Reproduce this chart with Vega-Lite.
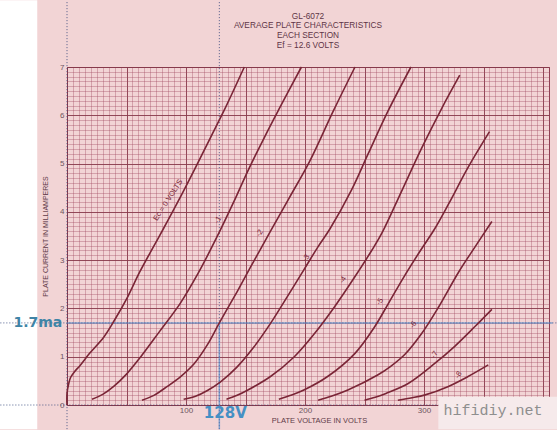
{
  "$schema": "https://vega.github.io/schema/vega-lite/v6.json",
  "width": 482,
  "height": 338,
  "autosize": {"type": "none"},
  "padding": {"left": 67, "top": 67, "right": 8, "bottom": 25},
  "background": "#f2d4d5",
  "config": {
    "view": {"stroke": "#86384a", "strokeWidth": 1},
    "font": "Liberation Sans"
  },
  "title": {
    "text": ["GL-6072", "AVERAGE PLATE CHARACTERISTICS", "EACH SECTION", "Ef = 12.6 VOLTS"],
    "font": "Liberation Sans",
    "fontSize": 8.3,
    "fontWeight": "normal",
    "color": "#5e3446",
    "lineHeight": 9.6,
    "anchor": "middle",
    "frame": "group",
    "offset": -49
  },
  "datasets": {
    "curves": [
      {"c": "0", "k": 0, "v": 0, "i": 0}, {"c": "0", "k": 1, "v": 0, "i": 0.24}, {"c": "0", "k": 2, "v": 1.5, "i": 0.45}, {"c": "0", "k": 3, "v": 3, "i": 0.57}, {"c": "0", "k": 4, "v": 6, "i": 0.68}, {"c": "0", "k": 5, "v": 11, "i": 0.82}, {"c": "0", "k": 6, "v": 19, "i": 1.07}, {"c": "0", "k": 7, "v": 31, "i": 1.41}, {"c": "0", "k": 8, "v": 40, "i": 1.76}, {"c": "0", "k": 9, "v": 51, "i": 2.24}, {"c": "0", "k": 10, "v": 61, "i": 2.75}, {"c": "0", "k": 11, "v": 72, "i": 3.25}, {"c": "0", "k": 12, "v": 81, "i": 3.65}, {"c": "0", "k": 13, "v": 93, "i": 4.2}, {"c": "0", "k": 14, "v": 107, "i": 4.87}, {"c": "0", "k": 15, "v": 121, "i": 5.56}, {"c": "0", "k": 16, "v": 132, "i": 6.1}, {"c": "0", "k": 17, "v": 149, "i": 7.0},
      {"c": "1", "k": 0, "v": 21, "i": 0.12}, {"c": "1", "k": 1, "v": 30, "i": 0.22}, {"c": "1", "k": 2, "v": 39, "i": 0.38}, {"c": "1", "k": 3, "v": 50, "i": 0.64}, {"c": "1", "k": 4, "v": 62, "i": 1.0}, {"c": "1", "k": 5, "v": 78, "i": 1.53}, {"c": "1", "k": 6, "v": 95, "i": 2.1}, {"c": "1", "k": 7, "v": 110, "i": 2.72}, {"c": "1", "k": 8, "v": 126, "i": 3.48}, {"c": "1", "k": 9, "v": 140, "i": 4.2}, {"c": "1", "k": 10, "v": 152, "i": 4.85}, {"c": "1", "k": 11, "v": 166, "i": 5.55}, {"c": "1", "k": 12, "v": 178, "i": 6.12}, {"c": "1", "k": 13, "v": 197, "i": 7.0},
      {"c": "2", "k": 0, "v": 63, "i": 0.1}, {"c": "2", "k": 1, "v": 73, "i": 0.2}, {"c": "2", "k": 2, "v": 84, "i": 0.38}, {"c": "2", "k": 3, "v": 96, "i": 0.6}, {"c": "2", "k": 4, "v": 107, "i": 0.86}, {"c": "2", "k": 5, "v": 118, "i": 1.25}, {"c": "2", "k": 6, "v": 128, "i": 1.7}, {"c": "2", "k": 7, "v": 143, "i": 2.35}, {"c": "2", "k": 8, "v": 157, "i": 2.98}, {"c": "2", "k": 9, "v": 171, "i": 3.6}, {"c": "2", "k": 10, "v": 187, "i": 4.3}, {"c": "2", "k": 11, "v": 204, "i": 5.05}, {"c": "2", "k": 12, "v": 224, "i": 6.1}, {"c": "2", "k": 13, "v": 242, "i": 7.0},
      {"c": "3", "k": 0, "v": 98, "i": 0.12}, {"c": "3", "k": 1, "v": 108, "i": 0.18}, {"c": "3", "k": 2, "v": 118, "i": 0.3}, {"c": "3", "k": 3, "v": 129, "i": 0.48}, {"c": "3", "k": 4, "v": 143, "i": 0.79}, {"c": "3", "k": 5, "v": 157, "i": 1.2}, {"c": "3", "k": 6, "v": 171, "i": 1.69}, {"c": "3", "k": 7, "v": 185, "i": 2.24}, {"c": "3", "k": 8, "v": 199, "i": 2.8}, {"c": "3", "k": 9, "v": 211, "i": 3.28}, {"c": "3", "k": 10, "v": 221, "i": 3.65}, {"c": "3", "k": 11, "v": 239, "i": 4.45}, {"c": "3", "k": 12, "v": 253, "i": 5.2}, {"c": "3", "k": 13, "v": 270, "i": 6.1}, {"c": "3", "k": 14, "v": 289, "i": 7.0},
      {"c": "4", "k": 0, "v": 134, "i": 0.12}, {"c": "4", "k": 1, "v": 143, "i": 0.2}, {"c": "4", "k": 2, "v": 152, "i": 0.31}, {"c": "4", "k": 3, "v": 171, "i": 0.59}, {"c": "4", "k": 4, "v": 191, "i": 1.0}, {"c": "4", "k": 5, "v": 208, "i": 1.48}, {"c": "4", "k": 6, "v": 225, "i": 2.04}, {"c": "4", "k": 7, "v": 242, "i": 2.66}, {"c": "4", "k": 8, "v": 256, "i": 3.2}, {"c": "4", "k": 9, "v": 265, "i": 3.58}, {"c": "4", "k": 10, "v": 281, "i": 4.42}, {"c": "4", "k": 11, "v": 298, "i": 5.32}, {"c": "4", "k": 12, "v": 315, "i": 6.15}, {"c": "4", "k": 13, "v": 330, "i": 6.83},
      {"c": "5", "k": 0, "v": 178, "i": 0.12}, {"c": "5", "k": 1, "v": 188, "i": 0.2}, {"c": "5", "k": 2, "v": 199, "i": 0.31}, {"c": "5", "k": 3, "v": 219, "i": 0.59}, {"c": "5", "k": 4, "v": 242, "i": 1.07}, {"c": "5", "k": 5, "v": 258, "i": 1.6}, {"c": "5", "k": 6, "v": 270, "i": 2.1}, {"c": "5", "k": 7, "v": 283, "i": 2.65}, {"c": "5", "k": 8, "v": 297, "i": 3.2}, {"c": "5", "k": 9, "v": 309, "i": 3.65}, {"c": "5", "k": 10, "v": 321, "i": 4.18}, {"c": "5", "k": 11, "v": 337, "i": 4.92}, {"c": "5", "k": 12, "v": 355, "i": 5.66},
      {"c": "6", "k": 0, "v": 211, "i": 0.1}, {"c": "6", "k": 1, "v": 222, "i": 0.18}, {"c": "6", "k": 2, "v": 236, "i": 0.31}, {"c": "6", "k": 3, "v": 261, "i": 0.62}, {"c": "6", "k": 4, "v": 272, "i": 0.8}, {"c": "6", "k": 5, "v": 284, "i": 1.05}, {"c": "6", "k": 6, "v": 298, "i": 1.48}, {"c": "6", "k": 7, "v": 312, "i": 2.02}, {"c": "6", "k": 8, "v": 329, "i": 2.75}, {"c": "6", "k": 9, "v": 343, "i": 3.28}, {"c": "6", "k": 10, "v": 357, "i": 3.8},
      {"c": "7", "k": 0, "v": 250, "i": 0.1}, {"c": "7", "k": 1, "v": 259, "i": 0.16}, {"c": "7", "k": 2, "v": 268, "i": 0.24}, {"c": "7", "k": 3, "v": 287, "i": 0.45}, {"c": "7", "k": 4, "v": 309, "i": 0.86}, {"c": "7", "k": 5, "v": 326, "i": 1.22}, {"c": "7", "k": 6, "v": 343, "i": 1.63}, {"c": "7", "k": 7, "v": 357, "i": 1.98},
      {"c": "8", "k": 0, "v": 278, "i": 0.1}, {"c": "8", "k": 1, "v": 290, "i": 0.15}, {"c": "8", "k": 2, "v": 301, "i": 0.21}, {"c": "8", "k": 3, "v": 320, "i": 0.38}, {"c": "8", "k": 4, "v": 337, "i": 0.59}, {"c": "8", "k": 5, "v": 354, "i": 0.83}
    ],
    "labels": [
      {"t": "Ec = 0 VOLTS", "v": 85, "i": 4.24},
      {"t": "-1", "v": 127, "i": 3.83},
      {"t": "-2", "v": 162, "i": 3.56},
      {"t": "-3", "v": 201, "i": 3.04},
      {"t": "-4", "v": 232, "i": 2.59},
      {"t": "-5", "v": 263, "i": 2.14},
      {"t": "-6", "v": 291, "i": 1.66},
      {"t": "-7", "v": 309, "i": 1.04},
      {"t": "-8", "v": 329, "i": 0.62}
    ]
  },
  "resolve": {"axis": {"x": "independent", "y": "independent"}},
  "layer": [
    {
      "data": {"name": "curves"},
      "mark": {"type": "point", "opacity": 0},
      "encoding": {
        "x": {"field": "v", "type": "quantitative", "scale": {"domain": [0, 405], "nice": false, "zero": false},
          "axis": {"orient": "top", "values": [0,5,10,15,20,25,30,35,40,45,50,55,60,65,70,75,80,85,90,95,100,105,110,115,120,125,130,135,140,145,150,155,160,165,170,175,180,185,190,195,200,205,210,215,220,225,230,235,240,245,250,255,260,265,270,275,280,285,290,295,300,305,310,315,320,325,330,335,340,345,350,355,360,365,370,375,380,385,390,395,400,405],
            "grid": true, "gridColor": "#a04a62", "gridOpacity": 0.62, "gridWidth": 0.6, "labels": false, "ticks": false, "domain": false, "title": null}},
        "y": {"field": "i", "type": "quantitative", "scale": {"domain": [0, 7], "nice": false, "zero": false},
          "axis": {"orient": "right", "values": [0,0.1,0.2,0.3,0.4,0.5,0.6,0.7,0.8,0.9,1,1.1,1.2,1.3,1.4,1.5,1.6,1.7,1.8,1.9,2,2.1,2.2,2.3,2.4,2.5,2.6,2.7,2.8,2.9,3,3.1,3.2,3.3,3.4,3.5,3.6,3.7,3.8,3.9,4,4.1,4.2,4.3,4.4,4.5,4.6,4.7,4.8,4.9,5,5.1,5.2,5.3,5.4,5.5,5.6,5.7,5.8,5.9,6,6.1,6.2,6.3,6.4,6.5,6.6,6.7,6.8,6.9,7],
            "grid": true, "gridColor": "#a04a62", "gridOpacity": 0.62, "gridWidth": 0.6, "labels": false, "ticks": false, "domain": false, "title": null}}
      }
    },
    {
      "layer": [
        {
          "data": {"values": [{"a": -57, "b": -25, "lo": -0.5, "hi": 8.38}]},
          "mark": {"type": "rect", "fill": "#ffffff", "clip": false},
          "encoding": {
            "x": {"field": "a", "type": "quantitative", "scale": {"domain": [0, 405], "nice": false, "zero": false},
              "axis": {"orient": "bottom", "values": [0,25,50,75,100,125,150,175,200,225,250,275,300,325,350,375,400],
                "grid": true, "gridColor": "#86384a", "gridOpacity": 0.85, "gridWidth": 1, "ticks": false, "domain": false,
                "labelExpr": "datum.value > 0 && datum.value < 400 && datum.value % 100 === 0 ? datum.label : ''", "labelFlush": false,
                "labelFontSize": 8, "labelColor": "#6e5560", "labelPadding": 1,
                "title": "PLATE VOLTAGE IN VOLTS", "titleFontSize": 7.5, "titleFontWeight": "normal", "titleColor": "#5e3a48", "titlePadding": 2, "titleX": 252}},
            "x2": {"field": "b"},
            "y": {"field": "lo", "type": "quantitative", "scale": {"domain": [0, 7], "nice": false, "zero": false},
              "axis": {"orient": "left", "values": [0,0.5,1,1.5,2,2.5,3,3.5,4,4.5,5,5.5,6,6.5,7],
                "grid": true, "gridColor": "#86384a", "gridOpacity": 0.85, "gridWidth": 1, "ticks": false, "domain": false,
                "labelExpr": "datum.value === round(datum.value) ? datum.label : ''",
                "labelFontSize": 8, "labelColor": "#6e5560", "labelPadding": 3,
                "title": "PLATE CURRENT IN MILLIAMPERES", "titleFontSize": 7, "titleFontWeight": "normal", "titleColor": "#5e3a48", "titlePadding": 11}},
            "y2": {"field": "hi"}
          }
        },
        {
          "data": {"values": [
            {"x1": -56, "x2": 412, "y1": 1.7, "y2": 1.7},
            {"x1": -56, "x2": 412, "y1": 0, "y2": 0},
            {"x1": 128, "x2": 128, "y1": -0.5, "y2": 8.38},
            {"x1": 0, "x2": 0, "y1": -0.5, "y2": 8.38}
          ]},
          "mark": {"type": "rule", "stroke": "#34457a", "strokeDash": [1, 2], "strokeWidth": 1, "opacity": 0.85, "clip": false},
          "encoding": {
            "x": {"field": "x1", "type": "quantitative", "scale": {"domain": [0, 405], "nice": false, "zero": false}},
            "x2": {"field": "x2"},
            "y": {"field": "y1", "type": "quantitative", "scale": {"domain": [0, 7], "nice": false, "zero": false}},
            "y2": {"field": "y2"}
          }
        },
        {
          "data": {"values": [
            {"x1": 0, "x2": 408, "y1": 1.7, "y2": 1.7},
            {"x1": 128, "x2": 128, "y1": -0.5, "y2": 1.7}
          ]},
          "mark": {"type": "rule", "stroke": "#4f86c6", "strokeWidth": 1.5, "opacity": 0.65, "clip": false},
          "encoding": {
            "x": {"field": "x1", "type": "quantitative", "scale": {"domain": [0, 405], "nice": false, "zero": false}},
            "x2": {"field": "x2"},
            "y": {"field": "y1", "type": "quantitative", "scale": {"domain": [0, 7], "nice": false, "zero": false}},
            "y2": {"field": "y2"}
          }
        },
        {
          "data": {"name": "curves"},
          "mark": {"type": "line", "stroke": "#7a2536", "strokeWidth": 1.6, "interpolate": "catmull-rom"},
          "encoding": {
            "x": {"field": "v", "type": "quantitative", "scale": {"domain": [0, 405], "nice": false, "zero": false}},
            "y": {"field": "i", "type": "quantitative", "scale": {"domain": [0, 7], "nice": false, "zero": false}},
            "detail": {"field": "c", "type": "nominal"},
            "order": {"field": "k", "type": "quantitative"}
          }
        },
        {
          "data": {"name": "labels"},
          "mark": {"type": "text", "angle": -57, "fontSize": 7.5, "font": "Liberation Sans", "color": "#7a2536"},
          "encoding": {
            "x": {"field": "v", "type": "quantitative", "scale": {"domain": [0, 405], "nice": false, "zero": false}},
            "y": {"field": "i", "type": "quantitative", "scale": {"domain": [0, 7], "nice": false, "zero": false}},
            "text": {"field": "t"}
          }
        },
        {
          "data": {"values": [{"a": 312, "b": 412, "lo": -0.5, "hi": 0.17}]},
          "mark": {"type": "rect", "fill": "#f6eaeb", "clip": false},
          "encoding": {
            "x": {"field": "a", "type": "quantitative", "scale": {"domain": [0, 405], "nice": false, "zero": false}},
            "x2": {"field": "b"},
            "y": {"field": "lo", "type": "quantitative", "scale": {"domain": [0, 7], "nice": false, "zero": false}},
            "y2": {"field": "hi"}
          }
        },
        {
          "data": {"values": [
            {"t": "hifidiy.net", "v": 358, "i": -0.1}
          ]},
          "mark": {"type": "text", "font": "Liberation Mono", "fontSize": 15, "color": "#8e8e8e", "baseline": "middle", "align": "center", "clip": false},
          "encoding": {
            "x": {"field": "v", "type": "quantitative", "scale": {"domain": [0, 405], "nice": false, "zero": false}},
            "y": {"field": "i", "type": "quantitative", "scale": {"domain": [0, 7], "nice": false, "zero": false}},
            "text": {"field": "t"}
          }
        },
        {
          "data": {"values": [{"t": "1.7ma", "v": -4, "i": 1.7}]},
          "mark": {"type": "text", "font": "DejaVu Sans", "fontWeight": "bold", "fontSize": 14, "color": "#3f84a6", "align": "right", "baseline": "middle", "clip": false},
          "encoding": {
            "x": {"field": "v", "type": "quantitative", "scale": {"domain": [0, 405], "nice": false, "zero": false}},
            "y": {"field": "i", "type": "quantitative", "scale": {"domain": [0, 7], "nice": false, "zero": false}},
            "text": {"field": "t"}
          }
        },
        {
          "data": {"values": [{"t": "128V", "v": 133, "i": -0.17}]},
          "mark": {"type": "text", "font": "DejaVu Sans", "fontWeight": "bold", "fontSize": 15, "color": "#4590c4", "align": "center", "baseline": "middle", "clip": false},
          "encoding": {
            "x": {"field": "v", "type": "quantitative", "scale": {"domain": [0, 405], "nice": false, "zero": false}},
            "y": {"field": "i", "type": "quantitative", "scale": {"domain": [0, 7], "nice": false, "zero": false}},
            "text": {"field": "t"}
          }
        }
      ]
    }
  ]
}
